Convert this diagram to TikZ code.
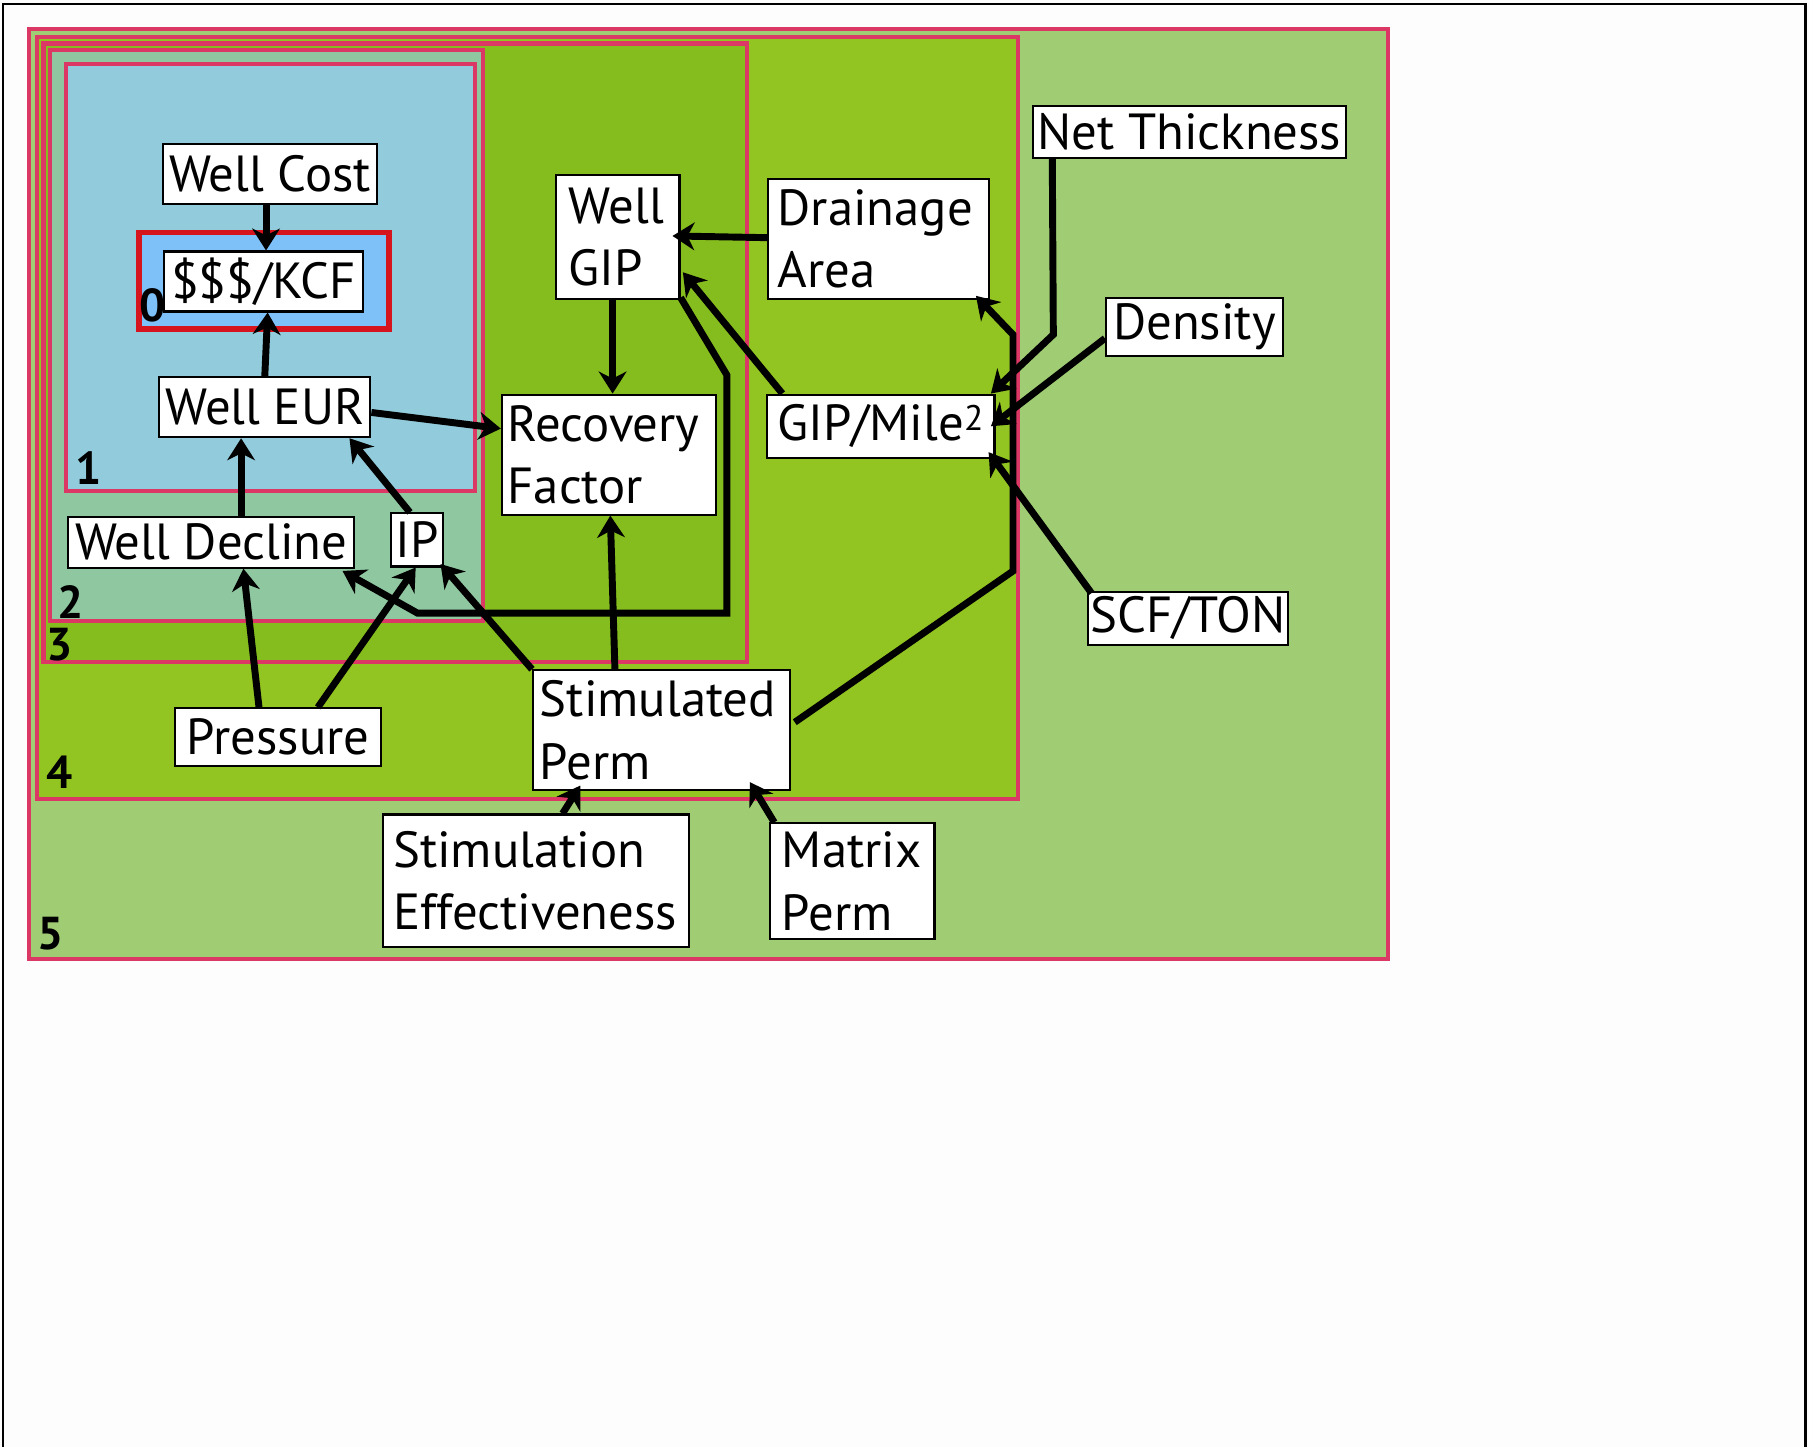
\documentclass[tikz,border=0pt]{standalone}
\usepackage{fontspec}
\setmainfont{PT Sans}
\usetikzlibrary{arrows.meta,calc}

\definecolor{regionedge}{RGB}{220,56,102}
\definecolor{lvlfive}{RGB}{160,205,116}
\definecolor{lvlfour}{RGB}{146,196,34}
\definecolor{lvlthree}{RGB}{134,189,30}
\definecolor{lvltwo}{RGB}{143,199,160}
\definecolor{lvlone}{RGB}{146,203,219}
\definecolor{lvlzero}{RGB}{125,193,248}
\definecolor{lvlzeroedge}{RGB}{214,20,30}
\definecolor{paper}{RGB}{253,253,253}

\tikzset{
  region/.style={draw=regionedge, line width=3.5pt},
  nbox/.style={draw=black, line width=1.8pt, fill=white, inner sep=0pt,
    font=\fontsize{44}{54}\selectfont},
  lbl/.style={inner sep=0pt, font=\fontsize{40}{40}\selectfont\bfseries},
  conn/.style={line width=6pt, -{Stealth[length=19pt,width=24pt,inset=6pt]}}
}

\begin{document}
\begin{tikzpicture}[x=1pt,y=-1pt]
\useasboundingbox (0,0) rectangle (1568,1254);
\fill[paper] (0,0) rectangle (1568,1254);
\draw[line width=2.2pt] (2.5,1254) -- (2.5,3.5) -- (1565,3.5) -- (1565,1254);

% nested scope regions
\draw[region, fill=lvlfive]  (25.1,25.1) rectangle (1203,831.2);
\draw[region, fill=lvlfour]  (32,32) rectangle (882.4,692.5);
\draw[region, fill=lvlthree] (37.7,37.7) rectangle (647.5,573.8);
\draw[region, fill=lvltwo]   (43.3,43.3) rectangle (418.6,538.3);
\draw[region, fill=lvlone]   (57.5,55.8) rectangle (411.8,425.3);
\draw[line width=5pt, draw=lvlzeroedge, fill=lvlzero] (120.4,201.6) rectangle (337,285);

% level numbers
\node[lbl] (n0) at (132.5,265) {0};
\node[lbl] (n1) at (77,406) {1};
\node[lbl] (n2) at (61,522) {2};
\node[lbl] (n3) at (52,558.5) {3};
\node[lbl] (n4) at (51.5,669.5) {4};
\node[lbl] (n5) at (43.5,809) {5};

% variables
\node[nbox, minimum width=186pt, minimum height=52pt] (wcost) at (234,151) {Well Cost};
\node[nbox, minimum width=172pt, minimum height=52pt] (kcf) at (228.5,244) {\$\$\$/KCF};
\node[nbox, minimum width=183pt, minimum height=52pt] (weur) at (229.5,353) {Well EUR};
\node[nbox, minimum width=248pt, minimum height=44pt] (wdecl) at (183,470) {Well Decline};
\node[nbox, minimum width=45.4pt, minimum height=46pt] (ip) at (361.3,468) {IP};
\node[nbox, minimum width=178pt, minimum height=50pt] (press) at (241,639) {Pressure};
\node[nbox, minimum width=186pt, minimum height=104pt, text width=176pt, align=left] (recov) at (528,394) {Recovery\\Factor};
\node[nbox, minimum width=107pt, minimum height=107pt, text width=85pt, align=left] (wgip) at (535.5,205.5) {Well\\GIP};
\node[nbox, minimum width=191pt, minimum height=104pt, text width=175pt, align=left] (drain) at (761.5,207) {Drainage\\Area};
\node[nbox, minimum width=197pt, minimum height=55pt, text width=179pt, align=left] (gipm) at (763.5,369.5) {GIP/Mile\textsuperscript{2}};
\node[nbox, minimum width=272pt, minimum height=45pt] (netth) at (1031,114.5) {Net Thickness};
\node[nbox, minimum width=153.4pt, minimum height=50.5pt] (dens) at (1035.3,283.3) {Density};
\node[nbox, minimum width=173pt, minimum height=46pt] (scf) at (1029.5,536) {SCF/TON};
\node[nbox, minimum width=223pt, minimum height=104pt, text width=211pt, align=left] (stimp) at (573.5,633) {Stimulated\\Perm};
\node[nbox, minimum width=265.4pt, minimum height=115pt, text width=247pt, align=left] (stime) at (464.3,763.5) {Stimulation\\Effectiveness};
\node[nbox, minimum width=142.4pt, minimum height=100.3pt, text width=122pt, align=left] (matp) at (738.8,763.8) {Matrix\\Perm};

% influences
\draw[conn] ([xshift=-3.4pt]wcost.south) -- ([xshift=2.1pt]kcf.north);
\draw[conn] (weur.north) -- ([xshift=3.5pt]kcf.south);
\draw[conn] ([xshift=26pt]wdecl.north) -- ([xshift=-20.5pt]weur.south);
\draw[conn] ([xshift=-6pt]ip.north) -- ([xshift=-19pt]weur.south east);
\draw[conn] ([yshift=-4.5pt]weur.east) -- ([yshift=22.5pt]recov.west);
\draw[conn] ([xshift=-4.5pt]wgip.south) -- ([xshift=3pt]recov.north);
\draw[conn] ([yshift=1pt]drain.west) -- ([xshift=-7pt,yshift=1pt]wgip.east);
\draw[conn] ([xshift=14pt]gipm.north west) -- ([xshift=2pt,yshift=-30.5pt]wgip.east);
\draw[conn] ([xshift=-40.5pt]stimp.north) -- ([xshift=1pt]recov.south);
\draw[conn] (stimp.north west) -- ([xshift=-3pt,yshift=3pt]ip.south east);
\draw[conn] ([yshift=2pt]wgip.south east) -- (630,325) -- (630,531.5) -- (362,531.5)
  -- ([xshift=-11pt,yshift=-2pt]wdecl.south east);
\draw[conn] ([xshift=-16.5pt]press.north) -- ([xshift=28pt]wdecl.south);
\draw[conn] ([xshift=34.5pt]press.north) -- ([xshift=-1pt]ip.south);
\draw[conn] ([xshift=23.3pt]stime.north) -- ([xshift=-70.5pt,yshift=5pt]stimp.south);
\draw[conn] ([xshift=4.4pt]matp.north west) -- ([xshift=76.5pt,yshift=8pt]stimp.south);
\draw[conn] ([xshift=3pt,yshift=7pt]stimp.east) -- (878,495) -- (878,290)
  -- ([xshift=-12pt,yshift=3.5pt]drain.south east);
\draw[conn] ([xshift=18pt]netth.south west) -- (913,290) -- ([xshift=-4pt]gipm.north east);
\draw[conn] ([yshift=-10pt]dens.west) -- ([xshift=-4pt]gipm.east);
\draw[conn] ([xshift=4pt,yshift=-2pt]scf.north west) -- ([xshift=-6pt,yshift=6pt]gipm.south east);
\end{tikzpicture}
\end{document}
